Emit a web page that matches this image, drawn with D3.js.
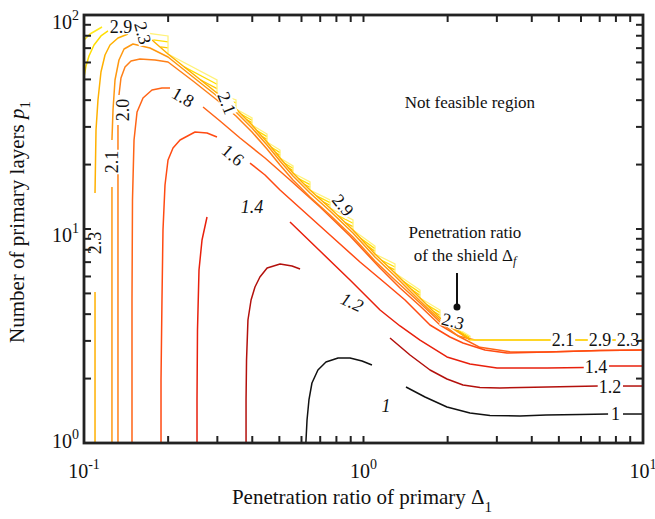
<!DOCTYPE html>
<html><head><meta charset="utf-8">
<script src="https://cdn.jsdelivr.net/npm/d3@7"></script>
<style>body{margin:0;background:#fff} text{font-family:"Liberation Serif","Times New Roman",serif;fill:#111}</style>
</head><body><svg id="c" width="655" height="519"></svg>
<script>
// ---------- data (Δ1, p1) ----------
const xDomain = [0.1, 10];
const yDomain = [1, 100];
const xTickVals = [0.1, 1, 10];
const xTickExp = ["-1", "0", "1"];
const yTickVals = [1, 10, 100];
const yTickExp = ["0", "1", "2"];
const levels = [1, 1.2, 1.4, 1.6, 1.8, 2.0, 2.1, 2.3, 2.5, 2.7, 2.9];

const c100 = [
  [[0.622,1.0],[0.628,1.281],[0.638,1.589],[0.654,1.907],[0.687,2.193],[0.734,2.39],[0.811,2.496],[0.895,2.496],[0.988,2.416],[1.072,2.314]],
  [[1.419,1.827],[1.66,1.641],[1.989,1.473],[2.404,1.381],[2.836,1.344],[3.63,1.337],[4.5,1.352],[5.95,1.359],[7.5,1.366]],
  [[8.48,1.366],[10,1.366]]
];
const c120 = [
  [[0.380,1.0],[0.380,1.589],[0.3815,2.443],[0.386,3.756],[0.396,4.658],[0.409,5.358],[0.426,5.967],[0.452,6.575],[0.503,6.862],[0.555,6.716],[0.593,6.503]],
  [[1.244,3.095],[1.467,2.577],[1.73,2.193],[1.989,1.991],[2.27,1.866],[2.611,1.817],[3.078,1.807],[4.535,1.827],[6.9,1.846]],
  [[8.48,1.846],[10,1.846]]
];
const c140 = [
  [[0.2537,1.0],[0.2537,1.589],[0.2547,3.373],[0.2579,6.433],[0.2644,8.884],[0.2755,11.38]],
  [[0.5458,10.78],[0.699,7.89],[0.895,5.776],[1.146,4.183],[1.351,3.522],[1.593,3.028],[1.989,2.523],[2.404,2.34],[3.003,2.241],[4.535,2.241],[6.2,2.253]],
  [[7.56,2.29],[10,2.29]]
];
const c160 = [
  [[0.1886,1.0],[0.1886,1.970],[0.1901,4.658],[0.1917,9.89],[0.1949,16.06],[0.1998,21.01],[0.2082,23.9],[0.2206,26.06],[0.2496,28.4],[0.2755,28.09],[0.2991,26.91]],
  [[0.3926,20.33],[0.4443,17.88],[0.5027,15.21],[0.5927,12.54],[0.7588,9.376],[0.9716,7.011],[1.194,5.593],[1.408,4.658],[1.7295,3.559],[2.039,3.128],[2.27,2.933],[2.721,2.72],[3.261,2.634],[4.535,2.66],[7.02,2.705],[10,2.72]]
];
const c180 = [
  [[0.1485,1.0],[0.1485,4.658],[0.1491,13.66],[0.151,26.06],[0.1548,35.22],[0.1626,40.94],[0.1751,44.62],[0.1901,45.6],[0.2031,45.6]],
  [[0.2666,37.16],[0.3067,31.97],[0.3616,26.62],[0.4443,21.47],[0.5458,16.94],[0.699,12.67],[0.895,9.276],[1.146,6.575],[1.351,5.30],[1.593,4.366],[1.878,3.559],[2.214,3.128],[2.611,2.80],[3.343,2.67],[4.535,2.66],[7.02,2.705],[10,2.72]]
];
const c200 = [
  [[0.1323,1.0],[0.1323,4.658],[0.1323,30.6]],
  [[0.1334,42.29],[0.1356,50.76],[0.1402,57.15],[0.1473,60.96],[0.1586,62.29],[0.1795,61.62],[0.1998,60.31],[0.2455,49.17],[0.2991,40.07],[0.3498,33.73],[0.3991,28.4],[0.4516,23.65],[0.5027,19.91],[0.5595,16.94],[0.6436,14.11],[0.7588,11.63],[0.917,9.176],[1.099,7.088],[1.296,5.776],[1.593,4.509],[1.878,3.676],[2.178,3.162],[2.505,3.03],[10,3.03]]
];
const c210 = [
  [[0.1259,1.0],[0.1259,15.72]],
  [[0.1259,26.06],[0.127,35.98],[0.1291,49.7],[0.1334,61.62],[0.1391,69.36],[0.1497,73.18],[0.1722,70.1],[0.1998,63.63],[0.2455,51.3],[0.2991,41.84],[0.3498,35.22],[0.3991,29.65],[0.4516,24.69],[0.5027,20.78],[0.5595,17.69],[0.6436,14.73],[0.7588,12.14],[0.917,9.578],[1.099,7.399],[1.296,6.032],[1.593,4.608],[1.878,3.756],[2.404,3.03]]
];
const c230 = [
  [[0.1095,1.0],[0.1095,5.077]],
  [[0.1095,14.73],[0.1104,29.0],[0.1122,40.07],[0.115,54.15],[0.1189,65.03],[0.1239,72.41],[0.1323,78.07],[0.1437,81.5]],
  [[0.1751,76.4],[0.1998,65.73],[0.2991,43.2],[0.3498,36.37],[0.3991,30.6],[0.4516,25.5],[0.5027,21.47],[0.5595,18.27],[0.6436,15.21],[0.7588,12.54],[0.917,9.89],[1.099,7.64],[1.296,6.228],[1.593,4.76],[1.878,3.838],[2.404,3.03]]
];
const c270 = [
  [[0.1,51.3],[0.1017,57.8],[0.1042,64.3],[0.1086,72.4],[0.115,79.8],[0.1219,84.2]]
];
const c290 = [
  [[0.1,76.4],[0.1051,81.5],[0.116,87.9]],
  [[2.404,3.03],[10,3.03]]
];
// feasibility boundary staircase (teeth)
const teethStart = [0.1667, 82.4];
const teethDelta = [0.1998,0.2991,0.3498,0.3991,0.4516,0.5027,0.5595,0.6436,0.7588,0.917,1.099,1.296,1.593,1.878,2.404];
const teethTop   = [79.8,49.7,40.07,33.03,27.79,23.39,19.7,16.58,13.66,11.02,8.33,6.862,5.188,4.183,3.162];
const teethBot   = [65.73,43.2,36.37,30.6,25.5,21.47,18.27,15.21,12.54,9.89,7.64,6.228,4.76,3.838,3.03];

const contourLabels = [
  {t:"1",   d:7.97,  p:1.366, r:0},
  {t:"1",   d:1.204, p:1.489, r:0, it:true},
  {t:"1.2", d:7.62,  p:1.827, r:0},
  {t:"1.2", d:0.91,  p:4.559, r:25, it:true},
  {t:"1.4", d:6.79,  p:2.265, r:0},
  {t:"1.4", d:0.399, p:12.67, r:0, it:true},
  {t:"1.6", d:0.3413,p:22.17, r:40},
  {t:"1.8", d:0.2261,p:41.39, r:30},
  {t:"2.0", d:0.1379,p:35.98, r:-90},
  {t:"2.1", d:0.1259,p:20.56, r:-90},
  {t:"2.3", d:0.1095,p:8.602, r:-90},
  {t:"2.3", d:0.1626,p:82.4,  r:75},
  {t:"2.9", d:0.1356,p:87.9,  r:0},
  {t:"2.1", d:0.3249,p:38.8,  r:68},
  {t:"2.9", d:0.845, p:12.95, r:50},
  {t:"2.3", d:2.09,  p:3.715, r:15},
  {t:"2.1", d:5.17,  p:3.03,  r:0},
  {t:"2.9", d:7.02,  p:3.03,  r:0},
  {t:"2.3", d:8.84,  p:3.03,  r:0}
];

// ---------- drawing ----------
const W=655,H=519, L=84, R=643, T=15, B=443;
const svg = d3.select("#c");
const x = d3.scaleLog().domain(xDomain).range([L,R]);
const y = d3.scaleLog().domain(yDomain).range([B,T]);
const color = d3.scaleOrdinal().domain(levels).range(["#111111","#b3100c","#e8200c","#ff4a12","#ff6416","#ff8018","#ff9810","#ffb000","#ffc800","#ffdd00","#ffe81a"]);

svg.append("defs").append("clipPath").attr("id","clip").append("rect").attr("x",L).attr("y",T).attr("width",R-L).attr("height",B-T);
const g = svg.append("g").attr("clip-path","url(#clip)");
const line = d3.line().x(d=>x(d[0])).y(d=>y(d[1]));

// teeth & hatch (levels 2.5 .. 2.9)
const tg = g.append("g");
let prev = teethStart;
teethDelta.forEach((d,i)=>{
  const P0=[x(prev[0]),y(prev[1])], Tt=[x(d),y(teethTop[i])], Bt=[x(d),y(teethBot[i])];
  [[0.33,color(2.7)],[0.66,color(2.5)]].forEach(([f,c])=>{
    const q=[P0[0]+f*(Bt[0]-P0[0]),P0[1]+f*(Bt[1]-P0[1])];
    const v=[Tt[0],Tt[1]+f*(Bt[1]-Tt[1])];
    tg.append("line").attr("x1",q[0]).attr("y1",q[1]).attr("x2",v[0]).attr("y2",v[1]).attr("stroke",c).attr("stroke-width",1.3);
  });
  tg.append("path").attr("d",`M${P0}L${Tt}L${Bt}`).attr("fill","none").attr("stroke","#fff27a").attr("stroke-width",1.3);
  prev=[d,teethBot[i]];
});

const contours = [[1,c100],[1.2,c120],[1.4,c140],[1.8,c180],[1.6,c160],[2.0,c200],[2.1,c210],[2.3,c230],[2.7,c270],[2.9,c290]];
contours.forEach(([lv,segs])=>{
  segs.forEach(s=>{
    g.append("path").attr("d",line(s)).attr("fill","none").attr("stroke",color(lv)).attr("stroke-width",1.5).attr("stroke-linejoin","round");
  });
});

// contour labels
contourLabels.forEach(l=>{
  const gg = svg.append("g").attr("transform",`translate(${x(l.d)},${y(l.p)}) rotate(${l.r})`);
  const tx = gg.append("text").attr("text-anchor","middle").attr("dy","0.35em").attr("font-size",18)
    .style("font-style", l.it?"italic":"normal").text(l.t);
  const bb = tx.node().getBBox();
  gg.insert("rect","text").attr("x",bb.x-1).attr("y",bb.y+3).attr("width",bb.width+2).attr("height",bb.height-6).attr("fill","#fff");
});

// annotations
svg.append("text").attr("x",x(2.404)).attr("y",y(36.76)).attr("text-anchor","middle").attr("font-size",17).text("Not feasible region");
svg.append("text").attr("x",x(2.307)).attr("y",y(9.08)).attr("text-anchor","middle").attr("font-size",17).text("Penetration ratio");
const t2 = svg.append("text").attr("x",x(2.307)).attr("y",y(7.088)).attr("text-anchor","middle").attr("font-size",17);
t2.append("tspan").text("of the shield \u0394");
t2.append("tspan").attr("font-size",12).attr("dy",4).style("font-style","italic").text("f");
svg.append("line").attr("x1",x(2.16)).attr("x2",x(2.16)).attr("y1",y(6.228)).attr("y2",y(4.415)).attr("stroke","#111").attr("stroke-width",2);
svg.append("circle").attr("cx",x(2.16)).attr("cy",y(4.32)).attr("r",3.5).attr("fill","#111");

// ticks
const tk = svg.append("g").attr("stroke","#222").attr("stroke-width",2);
const tl = 7;
x.ticks().forEach(t=>{
  tk.append("line").attr("x1",x(t)).attr("x2",x(t)).attr("y1",B).attr("y2",B-tl);
  tk.append("line").attr("x1",x(t)).attr("x2",x(t)).attr("y1",T).attr("y2",T+tl);
});
y.ticks().forEach(t=>{
  tk.append("line").attr("y1",y(t)).attr("y2",y(t)).attr("x1",L).attr("x2",L+tl);
  tk.append("line").attr("y1",y(t)).attr("y2",y(t)).attr("x1",R).attr("x2",R-tl);
});
svg.append("rect").attr("x",L).attr("y",T).attr("width",R-L).attr("height",B-T).attr("fill","none").attr("stroke","#222").attr("stroke-width",2.8);

// tick labels
xTickVals.forEach((v,i)=>{
  const t = svg.append("text").attr("x",x(v)).attr("y",478).attr("text-anchor","middle").attr("font-size",20).attr("fill","#333");
  t.append("tspan").text("10");
  t.append("tspan").attr("font-size",14).attr("dy",-9).text(xTickExp[i]);
});
const yLabelBase = [448, 242, 29];
yTickVals.forEach((v,i)=>{
  const t = svg.append("text").attr("x",79).attr("y",yLabelBase[i]).attr("text-anchor","end").attr("font-size",20).attr("fill","#333");
  t.append("tspan").text("10");
  t.append("tspan").attr("font-size",14).attr("dy",-9).text(yTickExp[i]);
});

// axis titles
const xt = svg.append("text").attr("x",362).attr("y",504).attr("text-anchor","middle").attr("font-size",21).attr("fill","#333");
xt.append("tspan").text("Penetration ratio of primary  \u0394");
xt.append("tspan").attr("font-size",15).attr("dy",8).text("1");
const yt = svg.append("text").attr("transform","translate(24,222) rotate(-90)").attr("text-anchor","middle").attr("font-size",21).attr("fill","#333");
yt.append("tspan").text("Number of primary layers ");
yt.append("tspan").style("font-style","italic").text("p");
yt.append("tspan").attr("font-size",15).attr("dy",6).text("1");
</script></body></html>
